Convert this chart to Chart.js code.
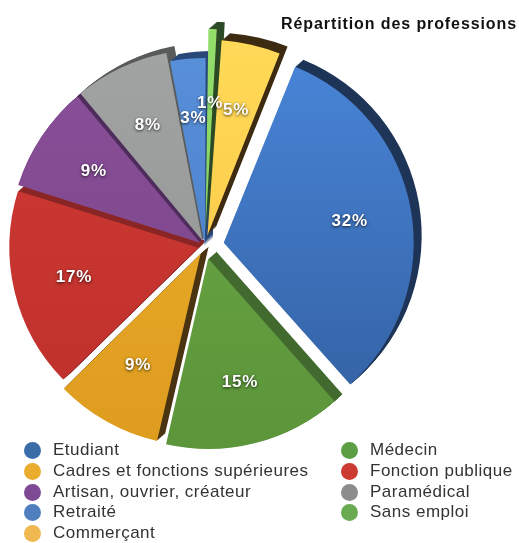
<!DOCTYPE html>
<html>
<head>
<meta charset="utf-8">
<title>Répartition des professions</title>
<script src="https://cdn.jsdelivr.net/npm/chart.js@4.4.1/dist/chart.umd.min.js"></script>
<style>
  body { margin: 0; background: #fff; }
  #wrap { position: relative; width: 519px; height: 543px; font-family: "Liberation Sans", Arial, sans-serif; }
  #chart { position: absolute; left: 0; top: 0; }
  #titre { position: absolute; right: 2px; top: 15px; font-weight: bold; font-size: 16px; letter-spacing: 0.9px; color: #111; }
  .item { position: absolute; font-size: 17px; letter-spacing: 0.5px; color: #333; line-height: 20px; white-space: nowrap; }
  .item .pt { position: absolute; left: -29px; top: 2px; width: 17px; height: 17px; border-radius: 50%; }
</style>
</head>
<body>
<div id="wrap">
  <canvas id="chart" width="519" height="543"></canvas>
  <div id="titre">Répartition des professions</div>
  <div id="legende"></div>
</div>
<script>
// données
const professions = ['Etudiant', 'Médecin', 'Cadres et fonctions supérieures', 'Fonction publique',
  'Artisan, ouvrier, créateur', 'Paramédical', 'Retraité', 'Sans emploi', 'Commerçant'];
const pourcentages = [32, 15, 9, 17, 9, 8, 3, 1, 5];

// couleurs des parts (haut clair, bas foncé) et des côtés en relief
const couleursHaut = ['#4c8ae0', '#6cab48', '#eeb02e', '#d23c36', '#8c529e', '#a4a6a6', '#5a92dc', '#96e06e', '#ffdc5a'];
const couleursBas  = ['#2f5a98', '#5a9238', '#dc9a1c', '#bc2e2a', '#76407f', '#8e9090', '#4678c0', '#78c854', '#fcc040'];
const couleursCote = ['#1e3558', '#426a2e', '#4a3412', '#8a2626', '#4e2c5c', '#5a5c5c', '#2a4878', '#2c4a26', '#3e2c12'];
const couleursLegende = ['#3a6ca8', '#5c9e44', '#eaad2d', '#cc3b32', '#7f4a94', '#8c8c8c', '#4f7fbe', '#6aaa50', '#f0b850'];
// décalage (éclatement) de chaque part en pixels
const eclatement = [19, 13, 9, 7, 6, 6, 0, 15, 11];

const PROF = 8, DX = 8, DY = -7;

const relief = {
  id: 'relief',
  beforeDatasetsDraw(chart) {
    const c = chart.ctx;
    const arcs = chart.getDatasetMeta(0).data;
    for (let k = PROF; k >= 1; k--) {
      arcs.forEach((arc, i) => {
        const faux = Object.create(arc);
        faux.options = Object.assign({}, arc.options, { backgroundColor: couleursCote[i], borderWidth: 0 });
        c.save();
        c.translate(k * DX / PROF, k * DY / PROF);
        faux.draw(c);
        c.restore();
      });
    }
  }
};

const etiquettes = {
  id: 'etiquettes',
  afterDatasetsDraw(chart) {
    const c = chart.ctx;
    const arcs = chart.getDatasetMeta(0).data;
    c.save();
    c.font = 'bold 17px "Liberation Sans", Arial, sans-serif';
    c.letterSpacing = '0.8px';
    c.fillStyle = '#fff';
    c.textAlign = 'center';
    c.textBaseline = 'middle';
    c.shadowColor = 'rgba(0,0,0,0.75)';
    c.shadowBlur = 3;
    c.shadowOffsetY = 1;
    arcs.forEach((arc, i) => {
      const mid = (arc.startAngle + arc.endAngle) / 2;
      const r = arc.outerRadius * 0.68 + arc.options.offset / 4;
      c.fillText(pourcentages[i] + '%', arc.x + Math.cos(mid) * r, arc.y + Math.sin(mid) * r);
    });
    c.restore();
  }
};

function degrade(ctx) {
  const i = ctx.dataIndex;
  const area = ctx.chart.chartArea;
  if (!area || i === undefined) return couleursBas[i || 0];
  const g = ctx.chart.ctx.createLinearGradient(0, area.top, 0, area.bottom);
  g.addColorStop(0, couleursHaut[i]);
  g.addColorStop(1, couleursBas[i]);
  return g;
}

new Chart(document.getElementById('chart'), {
  type: 'pie',
  data: {
    labels: professions,
    datasets: [{
      data: pourcentages,
      backgroundColor: degrade,
      borderWidth: 0,
      offset: eclatement.map(v => v * 4)
    }]
  },
  options: {
    responsive: false,
    animation: false,
    events: [],
    rotation: 22,
    radius: 188,
    layout: { padding: { left: 0, right: 109, top: 0, bottom: 51 } },
    plugins: { legend: { display: false }, tooltip: { enabled: false } }
  },
  plugins: [relief, etiquettes]
});

// légende sur deux colonnes
const legende = document.getElementById('legende');
professions.forEach((p, i) => {
  const d = document.createElement('div');
  d.className = 'item';
  d.style.left = (i % 2 === 0 ? 53 : 370) + 'px';
  d.style.top = (440 + Math.floor(i / 2) * 20.8) + 'px';
  d.innerHTML = '<span class="pt" style="background:' + couleursLegende[i] + '"></span>' + p;
  legende.appendChild(d);
});
</script>
</body>
</html>
